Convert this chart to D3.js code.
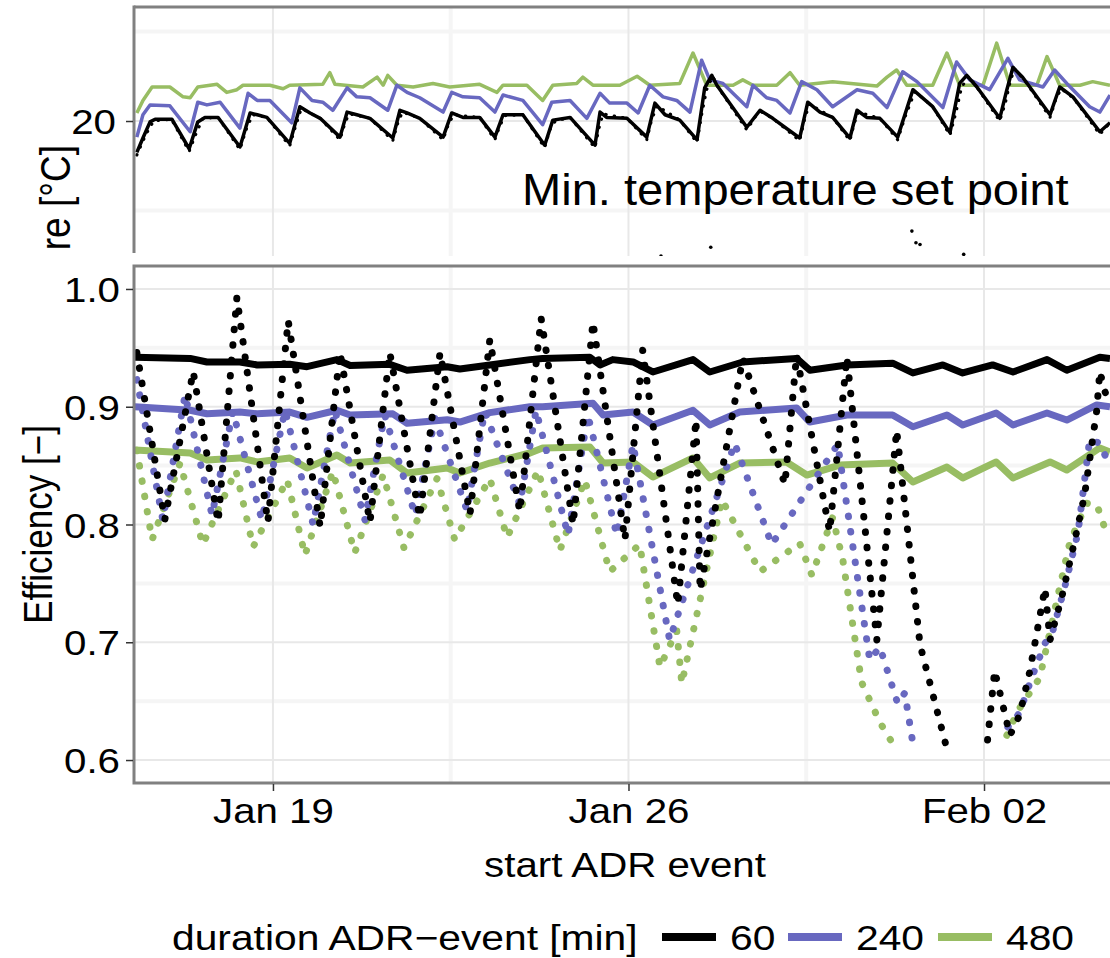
<!DOCTYPE html>
<html>
<head>
<meta charset="utf-8">
<script src="https://cdn.jsdelivr.net/npm/d3@7"></script>
<style>
body { margin: 0; background: #fff; }
svg text { font-family: "Liberation Sans", Arial, sans-serif; fill: #000; }
</style>
</head>
<body>
<div id="chart"></div>
<script>
// x values are days of January 2014 (Feb 02 = 33)
var xTickDays = [19, 26, 33];
var xMinorDays = [15.5, 22.5, 29.5, 36.5];
var tempTicks = [20];
var tempMinor = [19, 21];
var effTicks = [0.6, 0.7, 0.8, 0.9, 1.0];
var effMinor = [0.65, 0.75, 0.85, 0.95];
var durations = ["60", "240", "480"];

// temperature panel [day, degC]
var tempSolid60 = [[16.32,19.65],[16.44,19.81],[16.58,19.99],[16.68,20.02],[17.01,20.02],[17.35,19.69],[17.52,19.99],[17.66,20.04],[17.92,20.04],[18.35,19.71],[18.55,20.09],[18.69,20.07],[18.88,20.04],[19.33,19.75],[19.53,20.16],[19.73,20.09],[19.93,20.03],[20.32,19.82],[20.46,20.10],[20.65,20.07],[20.91,20.03],[21.36,19.81],[21.50,20.12],[21.64,20.09],[21.89,20.03],[22.35,19.82],[22.52,20.09],[22.74,20.04],[23.07,20.04],[23.37,19.82],[23.53,20.07],[23.92,20.07],[24.35,19.73],[24.51,20.01],[24.85,20.04],[25.34,19.73],[25.44,20.10],[25.57,20.04],[25.97,20.03],[26.36,19.82],[26.52,20.20],[26.72,20.07],[27.01,20.01],[27.35,19.79],[27.50,20.37],[27.64,20.51],[27.74,20.40],[28.33,19.93],[28.59,20.12],[28.84,20.03],[29.37,19.81],[29.53,20.21],[29.77,20.10],[30.02,20.04],[30.36,19.81],[30.50,20.12],[30.69,20.04],[30.95,20.03],[31.30,19.82],[31.60,20.35],[31.99,20.16],[32.33,19.87],[32.52,20.42],[32.66,20.51],[32.86,20.38],[33.31,20.03],[33.45,20.35],[33.57,20.60],[33.76,20.49],[34.30,20.07],[34.49,20.38],[34.75,20.27],[35.28,19.88],[35.48,19.98]];
var tempSolid240 = [[16.32,19.82],[16.44,20.07],[16.58,20.18],[16.97,20.17],[17.37,19.88],[17.52,20.21],[17.70,20.18],[17.96,20.21],[18.35,19.92],[18.51,20.31],[18.69,20.23],[18.94,20.23],[19.37,19.98],[19.53,20.37],[19.77,20.23],[19.98,20.21],[20.18,20.12],[20.46,20.37],[20.65,20.27],[20.91,20.26],[21.26,20.12],[21.44,20.40],[21.64,20.32],[21.89,20.26],[22.35,20.10],[22.52,20.32],[22.74,20.27],[23.07,20.26],[23.37,20.10],[23.53,20.29],[23.92,20.23],[24.31,19.96],[24.49,20.21],[24.85,20.23],[25.18,20.03],[25.44,20.31],[25.63,20.20],[25.97,20.20],[26.19,20.09],[26.42,20.40],[26.68,20.27],[26.95,20.23],[27.21,20.10],[27.44,20.68],[27.60,20.46],[27.86,20.42],[28.33,20.16],[28.45,20.40],[28.72,20.26],[28.92,20.23],[29.18,20.09],[29.41,20.44],[29.71,20.35],[30.02,20.16],[30.50,20.35],[30.81,20.31],[31.09,20.15],[31.40,20.55],[31.68,20.44],[32.19,20.15],[32.46,20.66],[32.72,20.46],[33.11,20.35],[33.47,20.70],[33.70,20.46],[34.16,20.38],[34.39,20.57],[34.63,20.42],[35.08,20.16],[35.28,20.10],[35.48,20.29]];
var tempSolid480 = [[16.32,20.09],[16.44,20.23],[16.62,20.38],[16.97,20.38],[17.23,20.27],[17.37,20.26],[17.52,20.38],[17.90,20.41],[18.09,20.32],[18.29,20.35],[18.41,20.40],[18.94,20.40],[19.20,20.36],[19.33,20.40],[19.98,20.41],[20.12,20.54],[20.22,20.41],[20.77,20.38],[21.05,20.49],[21.17,20.40],[21.26,20.51],[21.44,20.40],[21.76,20.38],[22.15,20.42],[22.48,20.38],[23.07,20.41],[23.41,20.32],[23.53,20.40],[24.00,20.40],[24.31,20.23],[24.51,20.40],[24.98,20.42],[25.10,20.49],[25.30,20.40],[25.83,20.40],[26.17,20.50],[26.42,20.40],[27.01,20.42],[27.27,20.76],[27.54,20.40],[28.06,20.40],[28.25,20.46],[28.45,20.40],[28.92,20.40],[29.18,20.54],[29.37,20.40],[30.02,20.44],[30.89,20.39],[31.09,20.49],[31.28,20.57],[31.48,20.40],[31.99,20.40],[32.27,20.76],[32.52,20.40],[32.98,20.40],[33.25,20.87],[33.51,20.40],[34.04,20.40],[34.24,20.72],[34.49,20.40],[34.89,20.40],[35.14,20.44],[35.48,20.40]];
var tempDotted60 = [[16.32,19.62],[16.50,19.85],[16.65,20.00],[17.00,20.02],[17.35,19.66],[17.48,19.85],[17.62,20.03],[17.92,20.04],[18.35,19.68],[18.47,19.90],[18.60,20.07],[18.88,20.04],[19.33,19.72],[19.45,19.95],[19.56,20.14],[19.93,20.03],[20.32,19.79],[20.42,19.98],[20.50,20.08],[20.91,20.03],[21.36,19.78],[21.46,19.98],[21.55,20.10],[21.89,20.03],[22.35,19.79],[22.46,19.97],[22.56,20.07],[23.07,20.04],[23.37,19.79],[23.47,19.95],[23.57,20.06],[23.92,20.07],[24.35,19.70],[24.45,19.90],[24.56,20.00],[24.85,20.04],[25.34,19.70],[25.42,19.92],[25.50,20.08],[25.97,20.03],[26.36,19.79],[26.45,20.00],[26.56,20.17],[27.01,20.01],[27.35,19.76],[27.45,20.10],[27.54,20.35],[27.66,20.50],[27.76,20.38],[28.33,19.90],[28.50,20.05],[28.62,20.10],[28.84,20.03],[29.37,19.78],[29.46,20.00],[29.56,20.19],[30.02,20.04],[30.36,19.78],[30.45,19.98],[30.53,20.10],[30.95,20.03],[31.30,19.79],[31.45,20.05],[31.64,20.33],[31.99,20.16],[32.33,19.84],[32.45,20.10],[32.56,20.38],[32.70,20.50],[32.88,20.36],[33.31,20.00],[33.42,20.20],[33.52,20.45],[33.60,20.58],[33.78,20.47],[34.30,20.04],[34.42,20.25],[34.52,20.36],[34.77,20.25],[35.28,19.85],[35.48,19.98]];
var tempLow60 = [[26.64,18.49],[27.62,18.59],[31.58,18.77],[31.66,18.64],[31.74,18.62],[32.60,18.51]];

// efficiency panel [day, -]
var effSolid60 = [[16.28,0.942],[17.37,0.941],[17.70,0.938],[18.35,0.938],[18.69,0.9355],[19.33,0.936],[19.67,0.934],[20.26,0.940],[20.52,0.935],[21.30,0.936],[21.64,0.931],[22.43,0.934],[22.68,0.932],[23.27,0.9355],[24.06,0.940],[24.31,0.941],[25.24,0.942],[25.44,0.9355],[25.69,0.940],[26.09,0.938],[26.48,0.9295],[27.27,0.940],[27.60,0.9295],[28.25,0.938],[29.31,0.941],[29.57,0.931],[30.30,0.9355],[31.20,0.937],[31.60,0.9287],[32.19,0.9355],[32.58,0.9287],[33.17,0.9355],[33.57,0.9295],[34.24,0.940],[34.63,0.931],[35.28,0.942],[35.48,0.941]];
var effSolid240 = [[16.28,0.900],[17.37,0.897],[17.70,0.894],[18.35,0.8955],[18.69,0.894],[19.33,0.8955],[19.67,0.891],[20.26,0.897],[20.52,0.893],[21.36,0.894],[21.64,0.886],[22.43,0.889],[22.68,0.887],[23.27,0.895],[24.06,0.900],[24.31,0.900],[25.30,0.903],[25.50,0.893],[26.09,0.8955],[26.48,0.8845],[27.27,0.897],[27.60,0.8845],[28.19,0.8955],[29.31,0.899],[29.57,0.887],[30.30,0.893],[31.20,0.893],[31.60,0.883],[32.27,0.893],[32.58,0.8845],[33.24,0.8947],[33.57,0.8845],[34.24,0.8947],[34.63,0.8887],[35.22,0.9015],[35.48,0.900]];
var effSolid480 = [[16.28,0.8633],[17.37,0.8607],[17.70,0.8548],[18.35,0.8565],[18.69,0.8531],[19.33,0.8565],[19.67,0.848],[20.26,0.859],[20.52,0.8522],[21.30,0.8548],[21.64,0.8437],[22.43,0.848],[22.68,0.8437],[23.27,0.8522],[24.06,0.8607],[24.31,0.865],[25.24,0.8658],[25.50,0.8522],[26.09,0.8531],[26.48,0.8403],[27.27,0.8565],[27.60,0.8395],[28.19,0.8522],[29.11,0.8531],[29.51,0.842],[30.16,0.8505],[31.20,0.8522],[31.60,0.8361],[32.27,0.8488],[32.58,0.8395],[33.24,0.8531],[33.57,0.8395],[34.30,0.8531],[34.63,0.8463],[35.28,0.865],[35.48,0.8616]];
var effDotted60 = [[16.32,0.946],[16.87,0.804],[17.43,0.930],[17.92,0.802],[18.29,0.993],[18.90,0.802],[19.30,0.973],[19.93,0.798],[20.32,0.946],[20.91,0.802],[21.30,0.946],[21.89,0.806],[22.29,0.946],[22.88,0.809],[23.27,0.957],[23.86,0.811],[24.28,0.975],[24.91,0.800],[25.30,0.972],[25.93,0.787],[26.28,0.948],[26.97,0.732],[27.33,0.889],[27.41,0.744],[28.25,0.941],[29.08,0.834],[29.31,0.944],[29.96,0.794],[30.30,0.942],[30.89,0.702],[31.28,0.880],[31.74,0.698],[32.29,0.606],[32.7,null],[33.07,0.617],[33.21,0.676],[33.51,0.621],[33.70,0.638],[33.90,0.675],[34.20,0.746],[34.30,0.702],[34.53,0.738],[34.79,0.787],[34.98,0.825],[35.22,0.897],[35.28,0.930],[35.38,0.913],[35.48,0.901]];
var effDotted240 = [[16.32,0.923],[16.83,0.804],[17.27,0.910],[17.80,0.808],[18.21,0.896],[18.78,0.804],[19.24,0.897],[19.79,0.800],[20.22,0.897],[20.81,0.804],[21.20,0.893],[21.80,0.808],[22.19,0.890],[22.82,0.812],[23.17,0.896],[23.86,0.817],[24.18,0.897],[24.81,0.791],[25.20,0.893],[25.77,0.791],[26.09,0.868],[26.81,0.702],[28.09,0.869],[28.82,0.783],[30.12,0.868],[30.75,0.685],[30.95,0.696],[31.30,0.648],[31.44,0.657],[31.60,0.614],[32.5,null],[33.47,0.628],[33.70,0.640],[33.94,0.670],[34.20,0.699],[34.35,0.709],[34.59,0.747],[34.85,0.793],[35.08,0.872],[35.28,0.869],[35.48,0.849]];
var effDotted480 = [[16.32,0.863],[16.62,0.787],[17.17,0.852],[17.62,0.783],[18.27,0.846],[18.61,0.781],[19.28,0.838],[19.63,0.774],[20.18,0.845],[20.61,0.776],[21.17,0.842],[21.58,0.780],[22.23,0.839],[22.58,0.787],[23.27,0.839],[23.61,0.789],[24.22,0.846],[24.65,0.778],[25.14,0.838],[25.63,0.760],[26.22,0.783],[26.62,0.679],[26.95,0.710],[27.05,0.665],[27.84,0.821],[28.59,0.760],[29.37,0.784],[29.61,0.757],[30.02,0.806],[30.22,0.770],[30.59,0.666],[30.95,0.632],[31.30,0.607],[32.5,null],[33.45,0.621],[33.67,0.642],[34.10,0.670],[34.39,0.727],[34.69,0.785],[35.02,0.818],[35.22,0.817],[35.44,0.789]];

var colors = ["#000000", "#6868c0", "#98bd63"];

function day(d) {
  return new Date(new Date(2014, 0, 1).getTime() + (d - 1) * 864e5);
}

var svg = d3.select("#chart")
  .append("svg")
  .attr("width", 1110)
  .attr("height", 958);

var x = d3.scaleTime()
  .domain([day(16.264), day(35.52)])
  .range([134, 1112]);
var yT = d3.scaleLinear()
  .domain([17.5, 21.274])
  .range([344.75, 7]);
var yE = d3.scaleLinear()
  .domain([0.5805, 1.0195])
  .range([783, 266]);

var defs = svg.append("defs");
defs.append("clipPath").attr("id", "clipTop")
  .append("rect").attr("x", 134).attr("y", 7).attr("width", 1000).attr("height", 249);
defs.append("clipPath").attr("id", "clipBot")
  .append("rect").attr("x", 134).attr("y", 266).attr("width", 1000).attr("height", 517);
defs.append("clipPath").attr("id", "clipLabel")
  .append("rect").attr("x", 0).attr("y", 0).attr("width", 130).attr("height", 252);

var lineT = d3.line()
  .defined(function (d) { return d[1] != null; })
  .x(function (d) { return x(day(d[0])); })
  .y(function (d) { return yT(d[1]); });
var lineE = d3.line()
  .defined(function (d) { return d[1] != null; })
  .x(function (d) { return x(day(d[0])); })
  .y(function (d) { return yE(d[1]); });

function grid(g, y, major, minor) {
  // minor lines are wide and pale, major ones thin
  g.selectAll(null).data(minor).enter().append("line")
    .attr("x1", 134).attr("x2", 1112)
    .attr("y1", function (d) { return y(d); }).attr("y2", function (d) { return y(d); })
    .attr("stroke", "#f5f5f5").attr("stroke-width", 4);
  g.selectAll(null).data(xMinorDays).enter().append("line")
    .attr("x1", function (d) { return x(day(d)); }).attr("x2", function (d) { return x(day(d)); })
    .attr("y1", 0).attr("y2", 800)
    .attr("stroke", "#f5f5f5").attr("stroke-width", 4);
  g.selectAll(null).data(major).enter().append("line")
    .attr("x1", 134).attr("x2", 1112)
    .attr("y1", function (d) { return y(d); }).attr("y2", function (d) { return y(d); })
    .attr("stroke", "#e8e8e8").attr("stroke-width", 2);
  g.selectAll(null).data(xTickDays).enter().append("line")
    .attr("x1", function (d) { return x(day(d)); }).attr("x2", function (d) { return x(day(d)); })
    .attr("y1", 0).attr("y2", 800)
    .attr("stroke", "#e8e8e8").attr("stroke-width", 2);
}

function drawLine(g, data, line, color, width, dash) {
  g.append("path")
    .datum(data)
    .attr("fill", "none")
    .attr("stroke", color)
    .attr("stroke-width", width)
    .attr("stroke-linejoin", "round")
    .attr("stroke-linecap", dash ? "round" : "butt")
    .attr("stroke-dasharray", dash || null)
    .attr("d", line);
}

function styleAxis(g) {
  g.select(".domain").remove();
  g.selectAll(".tick line").attr("stroke", "#333").attr("stroke-width", 1.5);
  g.selectAll(".tick text")
    .attr("font-size", 35)
    .attr("fill", "#000")
    .attr("font-family", "Liberation Sans, Arial, sans-serif");
}

// ---- top panel: temperature ----
var topPanel = svg.append("g").attr("clip-path", "url(#clipTop)");
grid(topPanel, yT, tempTicks, tempMinor);

topPanel.append("text")
  .attr("transform", "translate(522,205) scale(1.07,1)")
  .attr("font-size", 44)
  .text("Min. temperature set point");

topPanel.selectAll(".low").data(tempLow60).enter().append("circle")
  .attr("cx", function (d) { return x(day(d[0])); })
  .attr("cy", function (d) { return yT(d[1]); })
  .attr("r", 1.8)
  .attr("fill", "#000");

drawLine(topPanel, tempSolid480, lineT, colors[2], 3.5);
drawLine(topPanel, tempSolid240, lineT, colors[1], 3.5);
drawLine(topPanel, tempSolid60, lineT, colors[0], 3.5);
drawLine(topPanel, tempDotted60, lineT, colors[0], 3, "0.5 8");

svg.append("line").attr("x1", 134).attr("x2", 1112).attr("y1", 7).attr("y2", 7)
  .attr("stroke", "#808080").attr("stroke-width", 3);
svg.append("line").attr("x1", 134).attr("x2", 134).attr("y1", 5.5).attr("y2", 253)
  .attr("stroke", "#808080").attr("stroke-width", 3);

var yAxisT = svg.append("g")
  .attr("transform", "translate(133,0)")
  .call(d3.axisLeft(yT).tickValues(tempTicks).tickSize(7).tickFormat(d3.format("d")));
styleAxis(yAxisT);
yAxisT.selectAll(".tick text")
  .attr("x", null).attr("dy", null)
  .attr("transform", "translate(-17,12.5) scale(1.15,1)");

svg.append("g").attr("clip-path", "url(#clipLabel)")
  .append("text")
  .attr("transform", "translate(70,145) rotate(-90) scale(1,1.15)")
  .attr("text-anchor", "end")
  .attr("font-size", 37)
  .text("Temperature [°C]");

// ---- bottom panel: efficiency ----
var botPanel = svg.append("g").attr("clip-path", "url(#clipBot)");
grid(botPanel, yE, effTicks, effMinor);

drawLine(botPanel, effSolid60, lineE, colors[0], 7);
drawLine(botPanel, effSolid240, lineE, colors[1], 7);
drawLine(botPanel, effSolid480, lineE, colors[2], 7);
drawLine(botPanel, effDotted480, lineE, colors[2], 7, "0.5 15");
drawLine(botPanel, effDotted240, lineE, colors[1], 7, "0.5 15");
drawLine(botPanel, effDotted60, lineE, colors[0], 7, "0.5 15");

svg.append("path")
  .attr("d", "M1112,266 H134 V783 H1112")
  .attr("fill", "none")
  .attr("stroke", "#808080")
  .attr("stroke-width", 3);

var yAxisE = svg.append("g")
  .attr("transform", "translate(133,0)")
  .call(d3.axisLeft(yE).tickValues(effTicks).tickSize(7).tickFormat(d3.format(".1f")));
styleAxis(yAxisE);
yAxisE.selectAll(".tick text")
  .attr("x", null).attr("dy", null)
  .attr("transform", "translate(-13,12.5) scale(1.15,1)");

var xAxis = svg.append("g")
  .attr("transform", "translate(0,784)")
  .call(d3.axisBottom(x).tickValues(xTickDays.map(day)).tickSize(7).tickFormat(d3.timeFormat("%b %d")));
styleAxis(xAxis);
xAxis.selectAll(".tick text")
  .attr("y", null).attr("dy", null)
  .attr("transform", "translate(0,39) scale(1.15,1)");

svg.append("text")
  .attr("transform", "translate(625,877) scale(1.15,1)")
  .attr("text-anchor", "middle")
  .attr("font-size", 35)
  .text("start ADR event");

svg.append("text")
  .attr("transform", "translate(52,524.5) rotate(-90) scale(1,1.15)")
  .attr("text-anchor", "middle")
  .attr("font-size", 35)
  .text("Efficiency [−]");

// ---- legend ----
var legend = svg.append("g");
legend.append("text")
  .attr("transform", "translate(172,950) scale(1.165,1)")
  .attr("font-size", 35)
  .text("duration ADR−event [min]");

var legendX = [662, 788, 938];
var keys = legend.selectAll(".key").data(durations).enter().append("g");
keys.append("line")
  .attr("x1", function (d, i) { return legendX[i]; })
  .attr("x2", function (d, i) { return legendX[i] + 54; })
  .attr("y1", 937).attr("y2", 937)
  .attr("stroke", function (d, i) { return colors[i]; })
  .attr("stroke-width", 8);
keys.append("text")
  .attr("transform", function (d, i) { return "translate(" + (legendX[i] + 68) + ",950) scale(1.165,1)"; })
  .attr("font-size", 35)
  .text(function (d) { return d; });
</script>
</body>
</html>
